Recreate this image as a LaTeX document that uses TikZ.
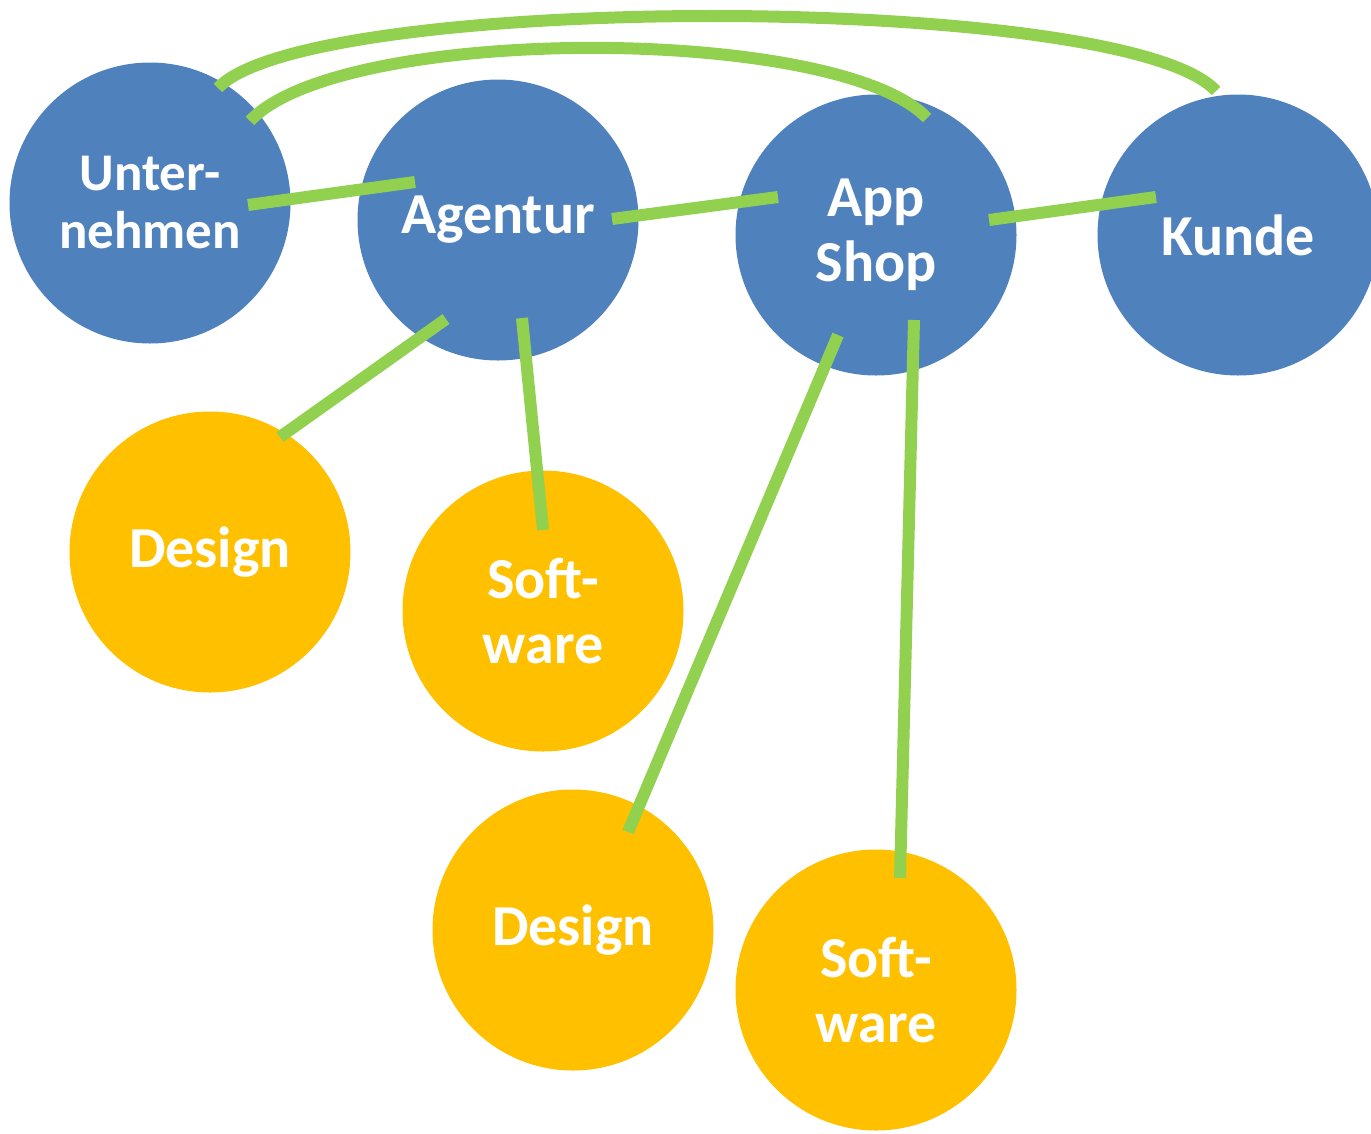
\documentclass[tikz,border=0pt]{standalone}
\usepackage{fontspec}
\setmainfont{Carlito}
\definecolor{cblue}{HTML}{4F81BD}
\definecolor{corange}{HTML}{FFC000}
\definecolor{cgreen}{HTML}{92D050}
\begin{document}
\begin{tikzpicture}[x=1pt,y=-1pt,
  bub/.style={circle,minimum size=281pt,inner sep=0pt,text=white,align=center,
     font=\bfseries\fontsize{58}{65}\selectfont},
  bluebub/.style={bub,fill=cblue},
  orangebub/.style={bub,fill=corange},
  link/.style={draw=cgreen,line width=12pt}]
\useasboundingbox (0,0) rectangle (1371,1133);
\node[bluebub,font=\bfseries\fontsize{53}{58}\selectfont] (U) at (150,203) {Unter-\\nehmen};
\node[bluebub] (A) at (498,220) {Agentur};
\node[bluebub] (S) at (876,235) {App\\Shop};
\node[bluebub] (K) at (1238,235) {Kunde};
\node[orangebub] (D1) at (210,552) {Design};
\node[orangebub] (S1) at (543,611) {Soft-\\ware};
\node[orangebub] (D2) at (573,930) {Design};
\node[orangebub] (S2) at (876,990) {Soft-\\ware};
% connectors
\draw[link] ([shift={(98,2)}]U.center) -- ([shift={(-83,-38)}]A.center);
\draw[link] ([shift={(114,-1)}]A.center) -- ([shift={(-98,-38)}]S.center);
\draw[link] ([shift={(113,-15)}]S.center) -- ([shift={(-82,-38)}]K.center);
\draw[link] ([shift={(-52,99)}]A.center) -- ([shift={(70,-115)}]D1.center);
\draw[link] ([shift={(24,98)}]A.center) -- ([shift={(0,-81)}]S1.center);
\draw[link] ([shift={(-38,100)}]S.center) -- ([shift={(55,-98)}]D2.center);
\draw[link] ([shift={(38,85)}]S.center) -- ([shift={(24,-112)}]S2.center);
\draw[link] ([shift={(68,-115)}]U.center) .. controls +(90,-96.5) and +(-90,-99.5) .. ([shift={(-22,-144)}]K.center);
\draw[link] ([shift={(100,-82)}]U.center) .. controls +(90,-97) and +(-90,-94) .. ([shift={(51,-117)}]S.center);
\end{tikzpicture}
\end{document}
